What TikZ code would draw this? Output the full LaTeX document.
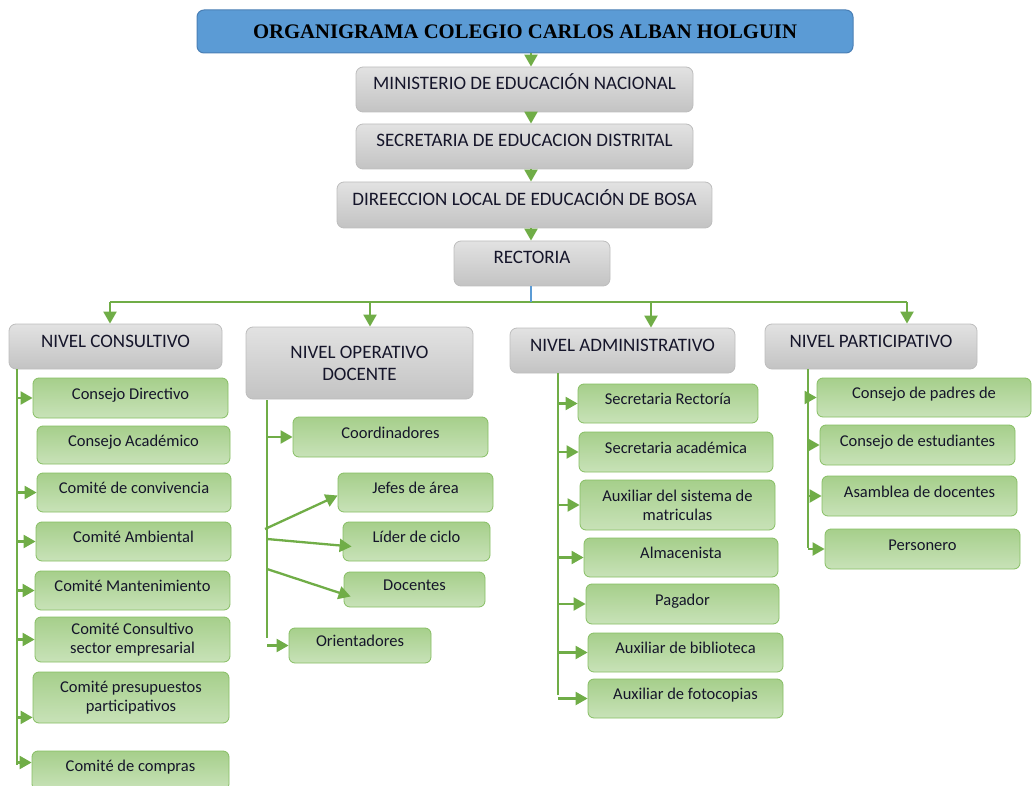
\documentclass[tikz,border=0pt]{standalone}
\usepackage{fontspec}
\setmainfont{Carlito}
\newfontfamily\titlefont{Liberation Serif}
\usepackage{tikz}
\usetikzlibrary{arrows.meta}
\usetikzlibrary{calc}
\usepackage{xcolor}
\definecolor{lineGreen}{HTML}{70AD47}
\definecolor{greenEdge}{HTML}{86BE63}
\definecolor{greenTop}{HTML}{A6CF8B}
\definecolor{greenBot}{HTML}{C8E2B8}
\definecolor{greyEdge}{HTML}{BDBDBD}
\definecolor{greyTop}{HTML}{E2E2E2}
\definecolor{greyBot}{HTML}{C3C3C3}
\definecolor{titleBlue}{HTML}{5B9BD5}
\definecolor{titleEdge}{HTML}{4A7FB5}
\definecolor{inkDark}{HTML}{15152A}

\begin{document}
\begin{tikzpicture}[x=1pt,y=-1pt,
dims/.style 2 args={minimum width=#1pt,minimum height=#2pt},
title box/.style={draw=titleEdge,fill=titleBlue,rounded corners=7pt,line width=1pt,inner sep=0pt,
  font=\titlefont\bfseries\fontsize{20.7}{24}\selectfont},
grey box/.style={draw=greyEdge,top color=greyTop,bottom color=greyBot,rounded corners=7pt,
  line width=0.8pt,inner sep=0pt,align=center,text=inkDark,font=\fontsize{19}{22}\selectfont},
green box/.style={draw=greenEdge,top color=greenTop,bottom color=greenBot,rounded corners=6pt,
  line width=0.8pt,inner sep=0pt,align=center,text=inkDark,font=\fontsize{16.5}{19}\selectfont},
lift/.style={text height=12pt,text depth=11pt},
small lift/.style={text height=10pt,text depth=8pt},
arr/.style={draw=lineGreen,line width=2.3pt,-{Triangle[length=12pt,width=13pt]}},
trunk/.style={draw=lineGreen,line width=2.3pt},
blueline/.style={draw=titleBlue,line width=1.3pt}]
\useasboundingbox (0,0) rectangle (1033,786);

\node[title box,dims={656}{43}] (title) at (525,31.5) {ORGANIGRAMA COLEGIO CARLOS ALBAN HOLGUIN};
\node[grey box,lift,dims={337}{45}] (min) at (524.5,89.5) {MINISTERIO DE EDUCACIÓN NACIONAL};
\node[grey box,lift,dims={337}{45}] (sed) at (524.5,146.5) {SECRETARIA DE EDUCACION DISTRITAL};
\node[grey box,lift,dims={375}{46}] (dil) at (524.5,205) {DIREECCION LOCAL DE EDUCACIÓN DE BOSA};
\node[grey box,lift,dims={156}{45}] (rec) at (532,263.5) {RECTORIA};

\node[grey box,lift,dims={213}{45}] (ncon) at (115.5,346.5) {NIVEL CONSULTIVO};
\node[grey box,dims={227}{72}] (nope) at (359.5,363) {NIVEL OPERATIVO\\DOCENTE};
\node[grey box,lift,dims={225}{45}] (nadm) at (622.5,350.5) {NIVEL ADMINISTRATIVO};
\node[grey box,lift,dims={212}{45}] (npar) at (871,346.5) {NIVEL PARTICIPATIVO};

% nivel consultivo
\node[green box,small lift,dims={195}{40}] (cdir) at (130.5,398) {Consejo Directivo};
\node[green box,small lift,dims={193}{38}] (caca) at (133.5,445) {Consejo Académico};
\node[green box,small lift,dims={194}{39}] (cconv) at (134,492.5) {Comité de convivencia};
\node[green box,small lift,dims={195}{39}] (camb) at (133.5,541.5) {Comité Ambiental};
\node[green box,small lift,dims={195}{39}] (cman) at (132.5,590.5) {Comité Mantenimiento};
\node[green box,dims={195}{45}] (ccons) at (132.5,639.5) {Comité Consultivo\\sector empresarial};
\node[green box,dims={196}{51}] (cpre) at (131,697.5) {Comité presupuestos\\participativos};
\node[green box,small lift,dims={197}{39}] (ccom) at (130.5,770.5) {Comité de compras};

% nivel operativo docente
\node[green box,small lift,dims={195}{40}] (ocoor) at (390.5,437) {Coordinadores};
\node[green box,small lift,dims={155}{39}] (ojef) at (415.5,492.5) {Jefes de área};
\node[green box,small lift,dims={147}{39}] (olid) at (416.5,541.5) {Líder de ciclo};
\node[green box,small lift,dims={141}{35}] (odoc) at (414.5,589.5) {Docentes};
\node[green box,small lift,dims={142}{35}] (oori) at (360,645.5) {Orientadores};

% nivel administrativo
\node[green box,small lift,dims={180}{39}] (asr) at (668,403.5) {Secretaria Rectoría};
\node[green box,small lift,dims={194}{40}] (asa) at (676,452) {Secretaria académica};
\node[green box,dims={195}{50}] (aaux) at (677.5,505) {Auxiliar del sistema de\\matriculas};
\node[green box,small lift,dims={194}{39}] (aalm) at (681,557.5) {Almacenista};
\node[green box,small lift,dims={193}{40}] (apag) at (682.5,604) {Pagador};
\node[green box,small lift,dims={195}{39}] (abib) at (685.5,652.5) {Auxiliar de biblioteca};
\node[green box,small lift,dims={195}{39}] (afot) at (685.5,698.5) {Auxiliar de fotocopias};

% nivel participativo
\node[green box,small lift,dims={214}{39}] (ppad) at (924,397.5) {Consejo de padres de};
\node[green box,small lift,dims={195}{40}] (pest) at (917.5,445) {Consejo de estudiantes};
\node[green box,small lift,dims={195}{40}] (pasa) at (919.5,496) {Asamblea de docentes};
\node[green box,small lift,dims={195}{40}] (pper) at (922.5,549) {Personero};

\coordinate (spine) at (531,0);
\draw[arr] (spine |- title.south) -- (spine |- min.north);
\draw[arr] (spine |- min.south) -- (spine |- sed.north);
\draw[arr] (spine |- sed.south) -- (spine |- dil.north);
\draw[arr] (spine |- dil.south) -- (spine |- rec.north);

\coordinate (b1) at (110,302);
\coordinate (b2) at (370,302);
\coordinate (b3) at (651,302);
\coordinate (b4) at (907,302);
\draw[trunk] (b1) -- (b4);
\draw[blueline] (spine |- rec.south) -- (spine |- b1);
\draw[arr] (b1) -- (b1 |- ncon.north);
\draw[arr] (b2) -- (b2 |- nope.north);
\draw[arr] (b3) -- (b3 |- nadm.north);
\draw[arr] (b4) -- (b4 |- npar.north);

\coordinate (cTop) at (17,369);
\coordinate (cEnd) at (17,765);
\coordinate (cpreIn) at ([yshift=6pt]cpre.south west);
\coordinate (ccomIn) at ([yshift=8pt]ccom.west);
\draw[trunk] (cTop) -- (cEnd);
\draw[arr] (cTop |- cdir.west) -- (cdir.west);
\draw[arr] (cTop |- cconv.west) -- (cconv.west);
\draw[arr] (cTop |- camb.west) -- (camb.west);
\draw[arr] (cTop |- cman.west) -- (cman.west);
\draw[arr] (cTop |- ccons.west) -- (ccons.west);
\draw[arr] (cTop |- cpreIn) -- (cpreIn);
\draw[arr] (cTop |- ccomIn) -- (ccomIn);

\coordinate (oTop) at (267,400);
\coordinate (oEnd) at (267,638);
\coordinate (oj) at (265,529);
\coordinate (ol) at (267,539);
\coordinate (od) at (267,569);
\draw[trunk] (oTop) -- (oEnd);
\draw[arr] (oTop |- ocoor.west) -- (ocoor.west);
\draw[arr] (oj) -- ([yshift=-3pt]ojef.west);
\draw[arr] (ol) -- ([xshift=9pt,yshift=-5pt]olid.west);
\draw[arr] (od) -- ([xshift=7pt,yshift=-7pt]odoc.west);
\draw[arr] (oTop |- oori.west) -- (oori.west);

\coordinate (aTop) at (558,373);
\coordinate (aEnd) at (558,695);
\draw[trunk] (aTop) -- (aEnd);
\draw[arr] (aTop |- asr.west) -- (asr.west);
\draw[arr] (aTop |- asa.west) -- (asa.west);
\draw[arr] (aTop |- aaux.west) -- (aaux.west);
\draw[arr] (aTop |- aalm.west) -- (aalm.west);
\draw[arr] (aTop |- apag.west) -- (apag.west);
\draw[arr] (aTop |- abib.west) -- (abib.west);
\draw[arr] (aTop |- afot.west) -- (afot.west);

\coordinate (pTop) at (808,369);
\coordinate (pEnd) at (808,548);
\draw[trunk] (pTop) -- (pEnd);
\draw[arr] (pTop |- ppad.west) -- (ppad.west);
\draw[arr] (pTop |- pest.west) -- (pest.west);
\draw[arr] (pTop |- pasa.west) -- (pasa.west);
\draw[arr] (pTop |- pper.west) -- (pper.west);
\end{tikzpicture}
\end{document}
